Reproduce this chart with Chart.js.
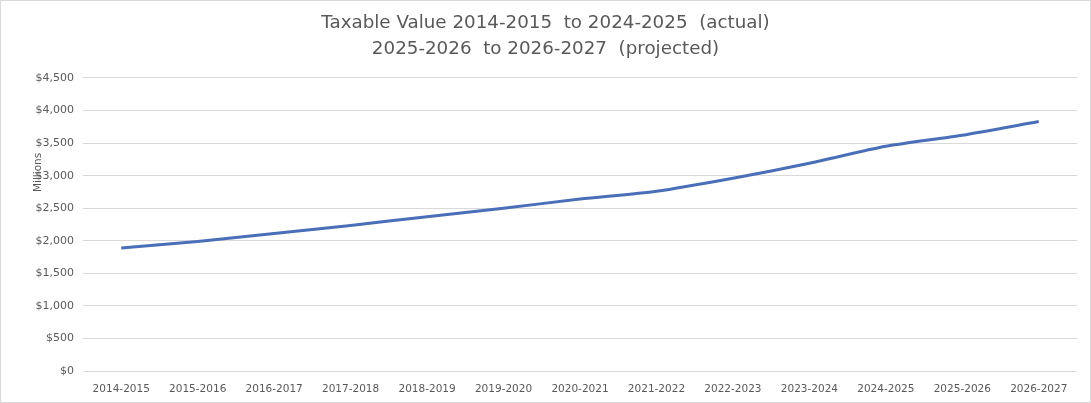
<!DOCTYPE html>
<html>
<head>
<meta charset="utf-8">
<script src="https://cdn.jsdelivr.net/npm/chart.js@4.4.1/dist/chart.umd.min.js"></script>
<style>
    html, body { margin: 0; padding: 0; background: #ffffff; }
    #wrap { position: relative; width: 1091px; height: 403px; box-sizing: border-box; border: 1px solid #d9d9d9; }
</style>
</head>
<body>
<div id="wrap"><canvas id="taxChart"></canvas></div>
<script>
// Fiscal years
const years = ['2014-2015', '2015-2016', '2016-2017', '2017-2018', '2018-2019', '2019-2020', '2020-2021',
    '2021-2022', '2022-2023', '2023-2024', '2024-2025', '2025-2026', '2026-2027'];
// Taxable value, millions of dollars
const taxableValue = [1890, 1990, 2110, 2235, 2370, 2500, 2640, 2760, 2960, 3190, 3450, 3620, 3830];
const titleLines = ['Taxable Value 2014-2015  to 2024-2025  (actual)', '2025-2026  to 2026-2027  (projected)'];
const yUnitLabel = 'Millions';

const fontFamily = '"DejaVu Sans", Tahoma, Verdana, sans-serif';
const textColor = '#595959';
const gridColor = '#d9d9d9';

const formatDollar = (v) => '$' + Number(v).toLocaleString('en-US');

// Excel-style display unit label ("Millions") next to the axis
const unitLabelPlugin = {
    id: 'unitLabel',
    afterDraw(chart) {
        const { ctx } = chart;
        const y = chart.scales.y.getPixelForValue(3050);
        ctx.save();
        ctx.translate(37, y);
        ctx.rotate(-Math.PI / 2);
        ctx.font = '10.5px ' + fontFamily;
        ctx.fillStyle = textColor;
        ctx.textAlign = 'center';
        ctx.textBaseline = 'middle';
        ctx.fillText(yUnitLabel, 0, 0);
        ctx.restore();
    }
};

new Chart(document.getElementById('taxChart'), {
    type: 'line',
    data: {
        labels: years,
        datasets: [{
            label: 'Taxable Value',
            data: taxableValue,
            borderColor: '#4a6fb8',
            borderWidth: 3,
            tension: 0.25,
            pointRadius: 0,
            fill: false
        }]
    },
    options: {
        responsive: true,
        maintainAspectRatio: false,
        animation: false,
        layout: { padding: { left: 13, right: 13, top: 0, bottom: 0 } },
        plugins: {
            legend: { display: false },
            tooltip: { enabled: false },
            title: {
                display: true,
                text: titleLines,
                color: textColor,
                font: { family: fontFamily, size: 18.3, weight: 'normal', lineHeight: 1.42 },
                padding: { top: 9, bottom: 16 }
            }
        },
        scales: {
            y: {
                min: 0,
                max: 4500,
                afterFit: (scale) => { scale.width = 69; },
                border: { display: false },
                grid: { color: gridColor, drawTicks: false },
                ticks: {
                    stepSize: 500,
                    padding: 9,
                    color: textColor,
                    font: { family: fontFamily, size: 11 },
                    callback: (value) => formatDollar(value)
                }
            },
            x: {
                offset: true,
                afterFit: (scale) => { scale.height = 31; },
                border: { display: false },
                grid: { display: false, offset: true },
                ticks: {
                    padding: 4,
                    maxRotation: 0,
                    color: textColor,
                    font: { family: fontFamily, size: 10.5 }
                }
            }
        }
    },
    plugins: [unitLabelPlugin]
});
</script>
</body>
</html>
